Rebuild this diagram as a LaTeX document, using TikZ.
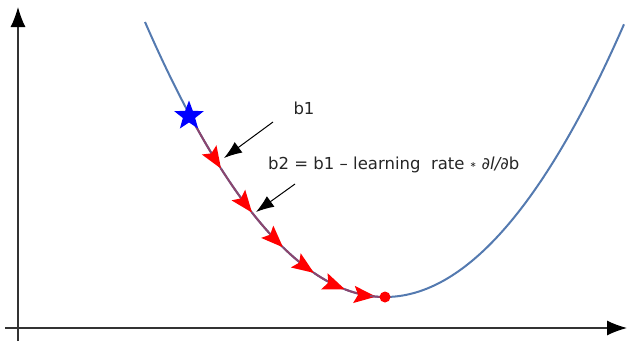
\documentclass[tikz,border=0pt]{standalone}
\usepackage{fontspec}
\setmainfont{DejaVu Sans}
\usetikzlibrary{arrows.meta,shapes.geometric}
\definecolor{curveblue}{RGB}{84,122,176}
\definecolor{stepline}{RGB}{140,70,110}
\tikzset{
  axis/.style={draw=black!80, line width=1.2pt, -{Latex[length=20pt,width=15pt,color=black]}},
  curve/.style={draw=curveblue, line width=2pt},
  gdstep/.style={draw=stepline, line width=2pt, -{Stealth[length=22pt,width=17pt,inset=4pt,color=red]}},
  pointer/.style={draw=black, line width=1pt, -{Latex[length=18pt,width=13pt]}},
  lbl/.style={font=\fontsize{16.5}{19}\selectfont, inner sep=0pt, text=black!85},
}
\newcommand{\py}[1]{297-275*((#1-385)/240)^2}
\begin{document}
\begin{tikzpicture}[x=1pt,y=-1pt]
\useasboundingbox (0,0) rectangle (634,346);
% axes
\coordinate (yb) at (18,341);
\coordinate (yt) at (18,7);
\coordinate (xl) at (5,328);
\coordinate (xr) at (627,328);
\draw[axis] (yb) -- (yt);
\draw[axis] (xl) -- (xr);
% curve
\draw[curve] plot[domain=145:624, samples=120, smooth] (\x, {\py{\x}});
% gradient steps
\foreach \a/\b in {190/221,221/252,252/283,283/314,314/345,345/376}{
  \draw[gdstep] plot[domain=\a:\b, samples=12] (\x, {\py{\x}});
}
\draw[draw=stepline, line width=2pt] plot[domain=370:385, samples=5] (\x, {\py{\x}});
\node[circle, fill=red, minimum size=11pt, inner sep=0pt] (dot) at (385,297) {};
\node[star, star points=5, star point ratio=2.4, fill=blue, minimum size=31pt, inner sep=0pt] (start) at (189,116) {};
% labels
\node[lbl] (b1) at (304,108) {b1};
\node[lbl, anchor=west] (upd) at (268,165) {b2 = b1 – learning\ \ rate \raisebox{0.2ex}{\footnotesize ∗} \textit{∂l/∂}b};
\coordinate (p1s) at (273,122);
\coordinate (p1e) at (224,158);
\coordinate (p2s) at (295,184);
\coordinate (p2e) at (256,212);
\draw[pointer] (p1s) -- (p1e);
\draw[pointer] (p2s) -- (p2e);
\end{tikzpicture}
\end{document}
